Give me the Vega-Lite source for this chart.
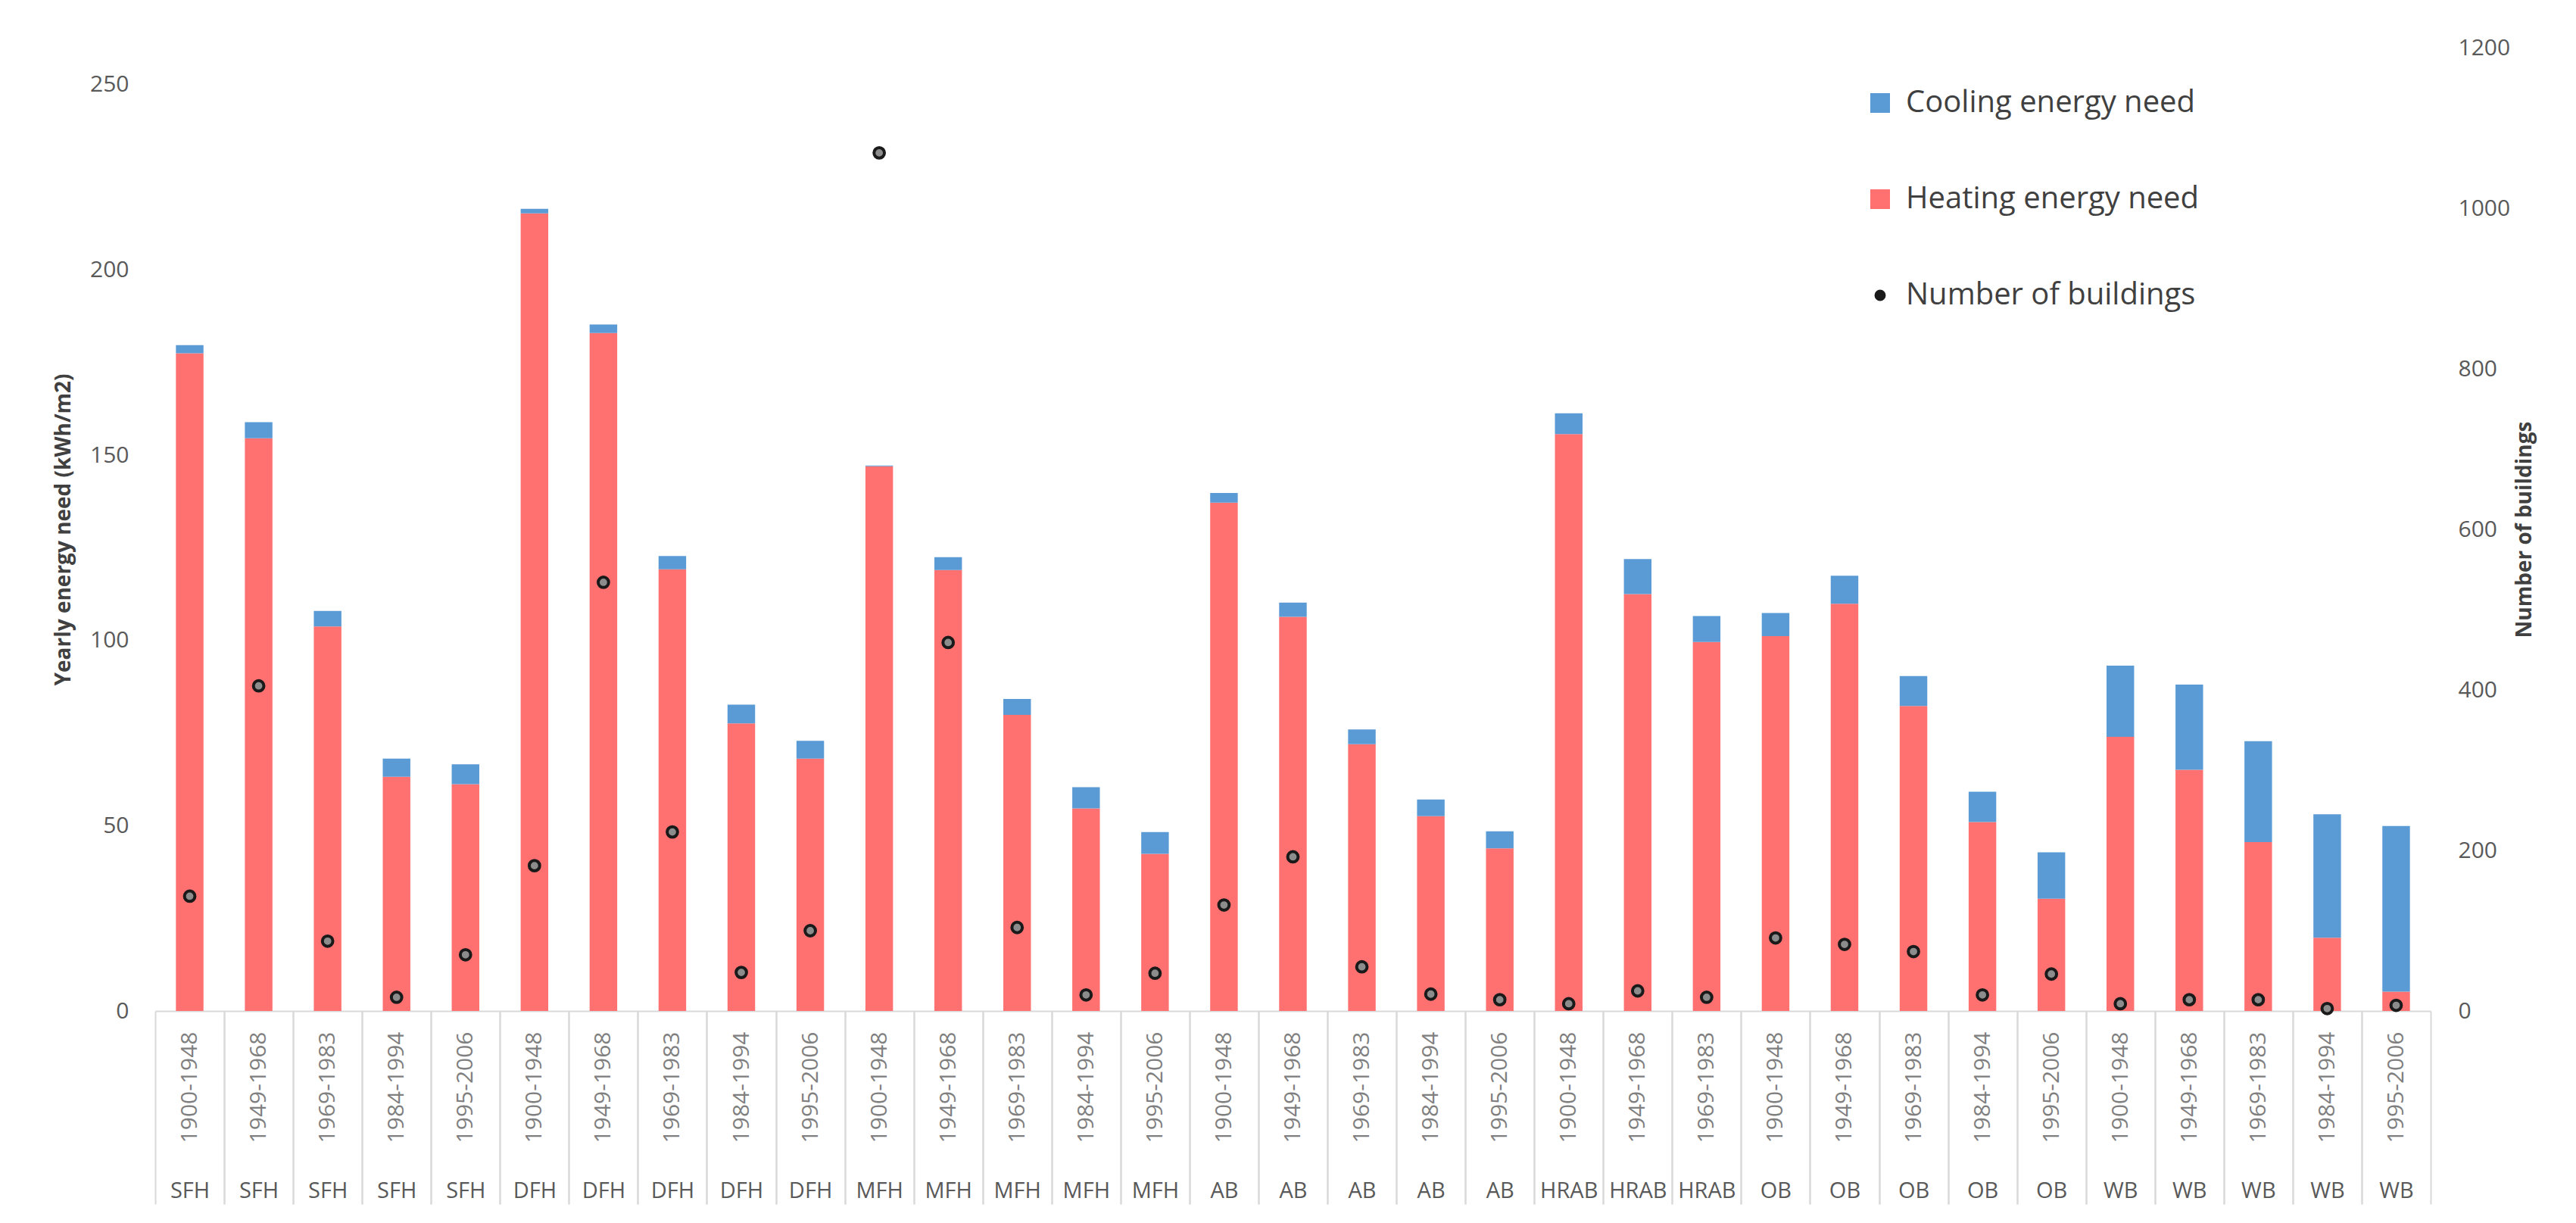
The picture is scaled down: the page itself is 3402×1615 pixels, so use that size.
{
  "$schema": "https://vega.github.io/schema/vega-lite/v6.json",
  "width": 3005,
  "height": 1272,
  "autosize": {"type": "none"},
  "padding": {"left": 205, "top": 63, "right": 192, "bottom": 280},
  "background": "white",
  "config": {
    "view": {"stroke": null},
    "font": "Open Sans",
    "axis": {"labelFont": "Open Sans", "titleFont": "Open Sans", "grid": false}
  },
  "data": {
    "values": [
      {"key": "SFH|1900-1948", "type": "SFH", "period": "1900-1948", "heating": 177.5, "total": 179.7, "buildings": 143},
      {"key": "SFH|1949-1968", "type": "SFH", "period": "1949-1968", "heating": 154.6, "total": 158.9, "buildings": 405},
      {"key": "SFH|1969-1983", "type": "SFH", "period": "1969-1983", "heating": 103.8, "total": 108.0, "buildings": 87},
      {"key": "SFH|1984-1994", "type": "SFH", "period": "1984-1994", "heating": 63.2, "total": 68.1, "buildings": 17},
      {"key": "SFH|1995-2006", "type": "SFH", "period": "1995-2006", "heating": 61.2, "total": 66.6, "buildings": 70},
      {"key": "DFH|1900-1948", "type": "DFH", "period": "1900-1948", "heating": 215.3, "total": 216.5, "buildings": 181},
      {"key": "DFH|1949-1968", "type": "DFH", "period": "1949-1968", "heating": 183.0, "total": 185.3, "buildings": 534},
      {"key": "DFH|1969-1983", "type": "DFH", "period": "1969-1983", "heating": 119.2, "total": 122.8, "buildings": 223},
      {"key": "DFH|1984-1994", "type": "DFH", "period": "1984-1994", "heating": 77.6, "total": 82.7, "buildings": 48},
      {"key": "DFH|1995-2006", "type": "DFH", "period": "1995-2006", "heating": 68.1, "total": 72.9, "buildings": 100},
      {"key": "MFH|1900-1948", "type": "MFH", "period": "1900-1948", "heating": 147.0, "total": 147.2, "buildings": 1069},
      {"key": "MFH|1949-1968", "type": "MFH", "period": "1949-1968", "heating": 119.0, "total": 122.5, "buildings": 459},
      {"key": "MFH|1969-1983", "type": "MFH", "period": "1969-1983", "heating": 79.9, "total": 84.2, "buildings": 104},
      {"key": "MFH|1984-1994", "type": "MFH", "period": "1984-1994", "heating": 54.7, "total": 60.4, "buildings": 20},
      {"key": "MFH|1995-2006", "type": "MFH", "period": "1995-2006", "heating": 42.4, "total": 48.3, "buildings": 47},
      {"key": "AB|1900-1948", "type": "AB", "period": "1900-1948", "heating": 137.2, "total": 139.8, "buildings": 132},
      {"key": "AB|1949-1968", "type": "AB", "period": "1949-1968", "heating": 106.4, "total": 110.2, "buildings": 192},
      {"key": "AB|1969-1983", "type": "AB", "period": "1969-1983", "heating": 72.0, "total": 76.0, "buildings": 55},
      {"key": "AB|1984-1994", "type": "AB", "period": "1984-1994", "heating": 52.6, "total": 57.1, "buildings": 21},
      {"key": "AB|1995-2006", "type": "AB", "period": "1995-2006", "heating": 43.9, "total": 48.5, "buildings": 14},
      {"key": "HRAB|1900-1948", "type": "HRAB", "period": "1900-1948", "heating": 155.7, "total": 161.3, "buildings": 9},
      {"key": "HRAB|1949-1968", "type": "HRAB", "period": "1949-1968", "heating": 112.5, "total": 122.0, "buildings": 25},
      {"key": "HRAB|1969-1983", "type": "HRAB", "period": "1969-1983", "heating": 99.6, "total": 106.6, "buildings": 17},
      {"key": "OB|1900-1948", "type": "OB", "period": "1900-1948", "heating": 101.2, "total": 107.4, "buildings": 91},
      {"key": "OB|1949-1968", "type": "OB", "period": "1949-1968", "heating": 109.9, "total": 117.5, "buildings": 83},
      {"key": "OB|1969-1983", "type": "OB", "period": "1969-1983", "heating": 82.3, "total": 90.4, "buildings": 74},
      {"key": "OB|1984-1994", "type": "OB", "period": "1984-1994", "heating": 51.0, "total": 59.2, "buildings": 20},
      {"key": "OB|1995-2006", "type": "OB", "period": "1995-2006", "heating": 30.3, "total": 42.8, "buildings": 46},
      {"key": "WB|1900-1948", "type": "WB", "period": "1900-1948", "heating": 74.0, "total": 93.2, "buildings": 9},
      {"key": "WB|1949-1968", "type": "WB", "period": "1949-1968", "heating": 65.1, "total": 88.1, "buildings": 14},
      {"key": "WB|1969-1983", "type": "WB", "period": "1969-1983", "heating": 45.6, "total": 72.8, "buildings": 14},
      {"key": "WB|1984-1994", "type": "WB", "period": "1984-1994", "heating": 19.8, "total": 53.1, "buildings": 3},
      {"key": "WB|1995-2006", "type": "WB", "period": "1995-2006", "heating": 5.2, "total": 49.9, "buildings": 7}
    ]
  },
  "layer": [
    {
      "layer": [
        {
          "mark": {"type": "bar"},
          "encoding": {
            "x": {
              "field": "key", "type": "nominal", "sort": null,
              "scale": {"paddingInner": 0.6, "paddingOuter": 0.3},
              "axis": {
                "orient": "bottom",
                "title": null,
                "labelExpr": "split(datum.value, '|')[1]",
                "labelAngle": 270,
                "labelFontSize": 30,
                "labelColor": "#7f7f7f",
                "labelPadding": -228,
                "labelOffset": 45.53,
                "labelOverlap": false,
                "labelLimit": 400,
                "ticks": true,
                "tickSize": 255,
                "tickOffset": -45.53,
                "tickColor": "#d9d9d9",
                "tickWidth": 2,
                "domain": true,
                "domainColor": "#d9d9d9",
                "domainWidth": 2
              }
            },
            "y": {
              "field": "heating", "type": "quantitative",
              "scale": {"domain": [0, 250]},
              "axis": {
                "title": "Yearly energy need (kWh/m2)",
                "titleFontSize": 28,
                "titleFontWeight": "bold",
                "titleColor": "#404040",
                "titlePadding": 20,
                "values": [0, 50, 100, 150, 200, 250],
                "labelFontSize": 30,
                "labelColor": "#595959",
                "labelPadding": 35,
                "ticks": false,
                "domain": false
              }
            },
            "color": {
              "datum": "Heating energy need",
              "scale": {
                "domain": ["Cooling energy need", "Heating energy need", "Number of buildings"],
                "range": ["#5B9BD5", "#FF7070", "#1a1a1a"]
              },
              "legend": {
                "title": null,
                "orient": "none",
                "legendX": 2258,
                "legendY": 53,
                "symbolType": "square",
                "symbolSize": 676,
                "labelFont": "Open Sans",
                "labelFontSize": 40,
                "labelColor": "#404040",
                "labelOffset": 14,
                "labelLimit": 800,
                "rowPadding": 87,
                "symbolOpacity": 1,
                "encode": {
                  "symbols": {
                    "update": {
                      "shape": {"signal": "datum.value === 'Number of buildings' ? 'circle' : 'square'"},
                      "size": {"signal": "datum.value === 'Number of buildings' ? 130 : 676"},
                      "fill": {"signal": "datum.value === 'Number of buildings' ? '#8c8c8c' : (datum.value === 'Cooling energy need' ? '#5B9BD5' : '#FF7070')"},
                      "stroke": {"signal": "datum.value === 'Number of buildings' ? '#1a1a1a' : 'transparent'"},
                      "strokeWidth": {"signal": "datum.value === 'Number of buildings' ? 3.5 : 0"},
                      "opacity": {"value": 1}
                    }
                  }
                }
              }
            }
          }
        },
        {
          "mark": {"type": "bar"},
          "encoding": {
            "x": {"field": "key", "type": "nominal", "sort": null},
            "y": {"field": "total", "type": "quantitative"},
            "y2": {"field": "heating"},
            "color": {"datum": "Cooling energy need"}
          }
        }
      ]
    },
    {
      "mark": {"type": "point", "shape": "circle", "filled": false, "size": 190, "strokeWidth": 4, "fill": "#8c8c8c", "opacity": 1},
      "encoding": {
        "x": {
          "field": "key", "type": "nominal", "sort": null,
          "axis": {
            "orient": "bottom",
            "title": null,
            "labelExpr": "split(datum.value, '|')[0]",
            "labelAngle": 0,
            "labelAlign": "center",
            "labelBaseline": "top",
            "labelFontSize": 29,
            "labelColor": "#595959",
            "labelPadding": -32,
            "labelOffset": -45.53,
            "labelOverlap": false,
            "labelFlush": false,
            "ticks": true,
            "tickSize": 255,
            "tickOffset": 45.53,
            "tickColor": "#d9d9d9",
            "tickWidth": 2,
            "domain": false
          }
        },
        "y": {
          "field": "buildings", "type": "quantitative",
          "scale": {"domain": [0, 1200]},
          "axis": {
            "orient": "right",
            "title": "Number of buildings",
            "titleAngle": 270,
            "titleBaseline": "top",
            "titleFontSize": 28,
            "titleFontWeight": "bold",
            "titleColor": "#404040",
            "titlePadding": 6,
            "format": "d",
            "values": [0, 200, 400, 600, 800, 1000, 1200],
            "labelFontSize": 30,
            "labelColor": "#595959",
            "labelPadding": 36,
            "ticks": false,
            "domain": false
          }
        },
        "color": {"datum": "Number of buildings"}
      }
    }
  ],
  "resolve": {"scale": {"y": "independent"}, "axis": {"x": "independent"}}
}
